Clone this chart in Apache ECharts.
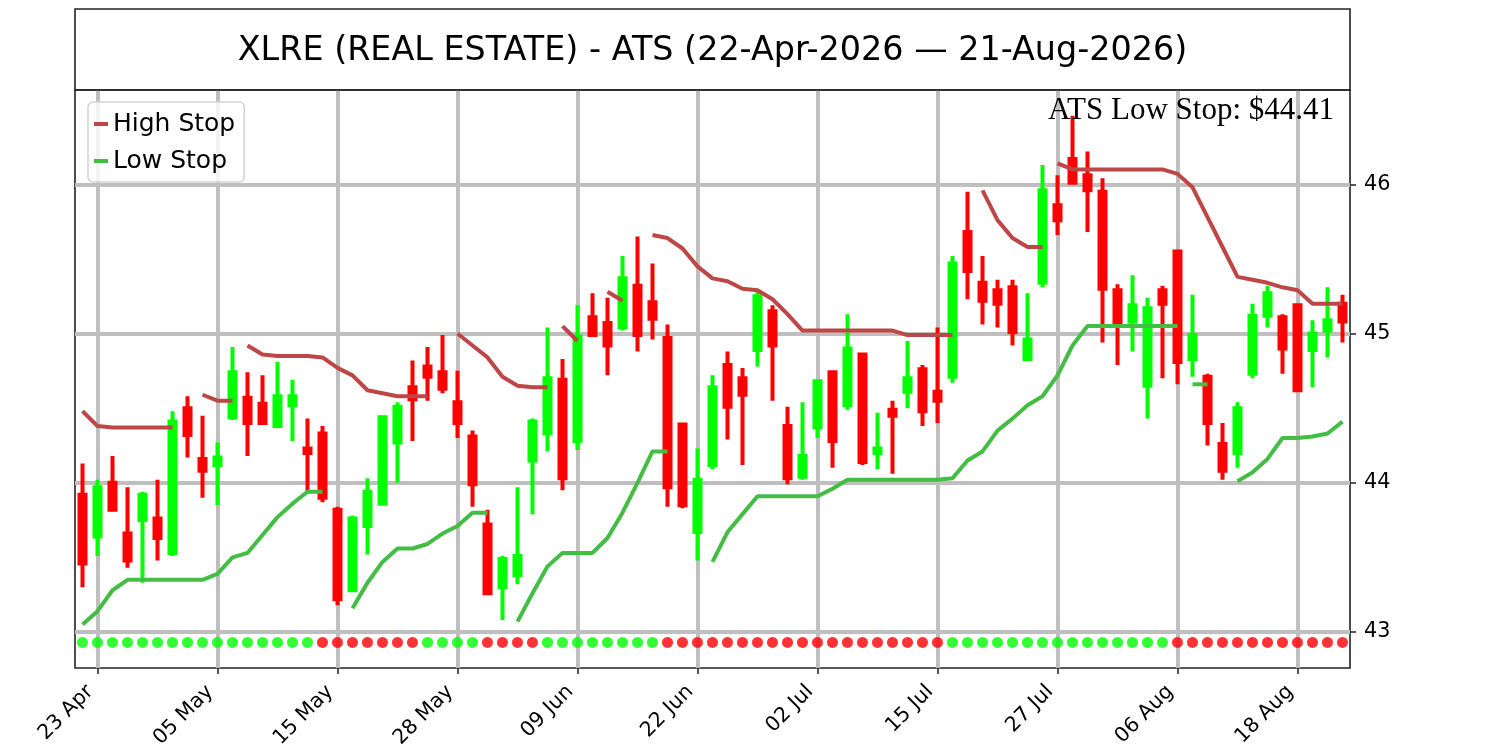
<!DOCTYPE html>
<html>
<head>
<meta charset="utf-8">
<title>XLRE ATS</title>
<script src="https://cdn.jsdelivr.net/npm/echarts@6/dist/echarts.min.js"></script>
<style>
html, body { margin: 0; padding: 0; background: #fff; }
#chart { width: 1500px; height: 750px; }
</style>
</head>
<body>
<div id="chart"></div>
<script>
// one value per trading day, 22 Apr .. 21 Aug 2026 (85 days)
var open = [43.92, 43.64, 44.00, 43.66, 43.75, 43.76, 43.53, 44.50, 44.16, 44.12,
            44.44, 44.57, 44.53, 44.38, 44.52, 44.23, 44.33, 43.82, 43.28, 43.71,
            43.86, 44.27, 44.64, 44.78, 44.74, 44.54, 44.31, 43.72, 43.30, 43.38,
            44.15, 44.33, 44.69, 44.28, 45.11, 45.07, 45.04, 45.32, 45.21, 44.97,
            44.39, 43.67, 44.12, 44.79, 44.70, 44.89, 45.15, 44.38, 44.04, 44.37,
            44.74, 44.52, 44.86, 44.20, 44.49, 44.61, 44.76, 44.61, 44.71, 45.68,
            45.34, 45.29, 45.31, 44.83, 45.34, 45.86, 46.17, 46.06, 45.95, 45.29,
            45.08, 44.65, 45.29, 45.55, 44.83, 44.71, 44.26, 44.20, 44.73, 45.12,
            45.11, 45.19, 44.89, 45.02, 45.20];
var close = [43.46, 43.97, 43.82, 43.48, 43.92, 43.63, 44.41, 44.32, 44.08, 44.17,
             44.74, 44.40, 44.40, 44.58, 44.58, 44.20, 43.90, 43.22, 43.76, 43.94,
             44.44, 44.51, 44.56, 44.71, 44.63, 44.40, 43.99, 43.26, 43.49, 43.51,
             44.41, 44.70, 44.03, 44.98, 44.99, 44.92, 45.37, 44.99, 45.10, 43.97,
             43.85, 44.02, 44.64, 44.51, 44.59, 45.25, 44.92, 44.03, 44.18, 44.68,
             44.28, 44.90, 44.14, 44.23, 44.45, 44.70, 44.48, 44.55, 45.47, 45.42,
             45.22, 45.20, 45.01, 44.96, 45.96, 45.76, 46.01, 45.96, 45.30, 45.06,
             45.19, 45.17, 45.20, 44.81, 44.99, 44.40, 44.08, 44.50, 45.12, 45.27,
             44.90, 44.62, 45.00, 45.09, 45.08];
var low = [43.30, 43.51, 43.81, 43.43, 43.33, 43.48, 43.51, 44.17, 43.90, 43.85,
           44.42, 44.18, 44.39, 44.38, 44.28, 43.93, 43.87, 43.18, 43.28, 43.52,
           43.86, 44.00, 44.28, 44.55, 44.60, 44.30, 43.84, 43.26, 43.08, 43.32,
           43.79, 44.21, 43.95, 44.22, 44.99, 44.72, 45.02, 44.88, 44.96, 43.84,
           43.83, 43.48, 44.09, 44.29, 44.12, 44.78, 44.55, 43.99, 44.02, 44.30,
           44.10, 44.49, 44.12, 44.09, 44.06, 44.50, 44.38, 44.40, 44.67, 45.23,
           45.06, 45.04, 44.92, 44.82, 45.31, 45.66, 46.00, 45.68, 44.94, 44.79,
           44.88, 44.43, 44.70, 44.66, 44.71, 44.25, 44.02, 44.10, 44.70, 45.04,
           44.73, 44.61, 44.64, 44.84, 44.94];
var high = [44.13, 44.02, 44.18, 43.97, 43.94, 44.02, 44.48, 44.58, 44.45, 44.27,
            44.91, 44.74, 44.72, 44.81, 44.69, 44.43, 44.38, 43.84, 43.78, 44.03,
            44.45, 44.54, 44.82, 44.91, 44.99, 44.75, 44.35, 43.82, 43.51, 43.97,
            44.43, 45.04, 44.83, 45.19, 45.27, 45.24, 45.52, 45.65, 45.47, 45.06,
            44.39, 44.23, 44.72, 44.88, 44.77, 45.29, 45.19, 44.51, 44.54, 44.69,
            44.74, 45.13, 44.86, 44.47, 44.55, 44.95, 44.79, 45.04, 45.52, 45.95,
            45.52, 45.36, 45.36, 45.27, 46.13, 46.06, 46.46, 46.22, 46.04, 45.33,
            45.39, 45.24, 45.32, 45.55, 45.26, 44.73, 44.40, 44.54, 45.20, 45.32,
            45.13, 45.19, 45.09, 45.31, 45.26];
// trend per day: 1 = up (green dot), 0 = down (red dot)
var trend = [1,1,1,1,1,1,1,1,1,1, 1,1,1,1,1,1,0,0,0,0, 0,0,0,1,1,1,1,0,0,0,
             0,1,1,1,1,1,1,1,1,0, 0,0,0,0,0,0,0,0,0,0, 0,0,0,0,0,0,0,0,1,1,
             1,1,1,1,1,1,1,1,1,1, 1,1,1,0,0,0,0,0,0,0, 0,0,0,0,0];
// stop lines come in separate pieces: [first day index, values]
var highStop = [
  [0, [44.48, 44.38, 44.37, 44.37, 44.37, 44.37, 44.37]],
  [8, [44.59, 44.55, 44.55]],
  [11, [44.92, 44.86, 44.85, 44.85, 44.85, 44.84, 44.77, 44.72, 44.62, 44.60, 44.58, 44.58, 44.58]],
  [25, [45.00, 44.92, 44.84, 44.71, 44.65, 44.64, 44.64]],
  [32, [45.05, 44.95]],
  [35, [45.28, 45.22]],
  [38, [45.66, 45.64, 45.57, 45.45, 45.37, 45.35, 45.30, 45.29, 45.23, 45.13, 45.02,
        45.02, 45.02, 45.02, 45.02, 45.02, 45.02, 44.99, 44.99, 44.99, 44.99]],
  [60, [45.96, 45.76, 45.64, 45.58, 45.58]],
  [65, [46.14, 46.10, 46.10, 46.10, 46.10, 46.10, 46.10, 46.10, 46.07, 45.98, 45.78,
        45.58, 45.38, 45.36, 45.34, 45.31, 45.29, 45.20, 45.20, 45.20]]
];
var lowStop = [
  [0, [43.05, 43.14, 43.28, 43.35, 43.35, 43.35, 43.35, 43.35, 43.35, 43.39, 43.50,
       43.53, 43.65, 43.77, 43.86, 43.94, 43.94]],
  [18, [43.16, 43.33, 43.47, 43.56, 43.56, 43.59, 43.66, 43.71, 43.80, 43.80]],
  [29, [43.07, 43.26, 43.44, 43.53, 43.53, 43.53, 43.63, 43.80, 44.00, 44.21, 44.21]],
  [42, [43.47, 43.67, 43.79, 43.91, 43.91, 43.91, 43.91, 43.91, 43.96, 44.02, 44.02,
        44.02, 44.02, 44.02, 44.02, 44.02, 44.03, 44.15, 44.21, 44.35, 44.43, 44.52,
        44.58, 44.72, 44.92, 45.05, 45.05, 45.05, 45.05, 45.05, 45.05, 45.05]],
  [74, [44.66, 44.66]],
  [77, [44.01, 44.07, 44.16, 44.30, 44.30, 44.31, 44.33, 44.41]]
];
// axis ticks
var tickDays = [1, 9, 17, 25, 33, 41, 49, 57, 65, 73, 81];
var tickLabels = ['23 Apr', '05 May', '15 May', '28 May', '09 Jun', '22 Jun',
                  '02 Jul', '15 Jul', '27 Jul', '06 Aug', '18 Aug'];
var yTicks = [43, 44, 45, 46];
var trendRowY = 42.93;

var FONT = 'DejaVu Sans';
var chart = echarts.init(document.getElementById('chart'));

//candles as [day, open, close, low, high]
var candles = open.map(function (o, i) {
  return [i, o, close[i], low[i], high[i]];
});

var series = [{
  type: 'candlestick',
  data: candles,
  encode: { x: 0, y: [1, 2, 3, 4] },
  barWidth: 7,
  itemStyle: {
    color: '#00ff00', color0: '#ff0000',
    borderColor: '#00ff00', borderColor0: '#ff0000',
    borderWidth: 4
  },
  silent: true,
  z: 2
}];

//each piece of a stop line is its own series, same name -> one legend entry
function addStop(name, color, pieces) {
  pieces.forEach(function (p) {
    series.push({
      name: name,
      type: 'line',
      data: p[1].map(function (v, k) { return [p[0] + k, v]; }),
      symbol: 'none',
      showSymbol: false,
      lineStyle: { color: color, width: 4 },
      itemStyle: { color: color },
      silent: true,
      z: 3
    });
  });
}
addStop('High Stop', '#bf4646', highStop);
addStop('Low Stop', '#44bd44', lowStop);

series.push({
  type: 'scatter',
  data: trend.map(function (t, i) {
    return { value: [i, trendRowY], itemStyle: { color: t ? '#00ff00' : '#ff0000' } };
  }),
  symbolSize: 11,
  silent: true,
  z: 4
});

var lastLow = lowStop[lowStop.length - 1][1];
var lastLowVal = lastLow[lastLow.length - 1];

var option = {
  animation: false,
  backgroundColor: '#fff',
  grid: {
    left: 75, right: 150, top: 90, bottom: 82,
    containLabel: false,
    outerBoundsMode: 'none',
    show: true, borderColor: '#222', borderWidth: 1.6, backgroundColor: '#fff'
  },
  legend: {
    data: ['High Stop', 'Low Stop'],
    orient: 'vertical',
    left: 88, top: 102,
    icon: 'rect',
    itemWidth: 14, itemHeight: 4,
    itemGap: 7,
    padding: [7, 9, 6, 6],
    borderColor: '#d3d3d3', borderWidth: 1.5, borderRadius: 5,
    backgroundColor: 'rgba(255,255,255,0.8)',
    textStyle: { fontFamily: FONT, fontSize: 25, color: '#000', lineHeight: 30 },
    selectedMode: false
  },
  xAxis: {
    type: 'value',
    min: -0.5, max: 84.5,
    axisLine: { show: false, onZero: false },
    axisTick: { show: true, customValues: tickDays, length: 6, lineStyle: { color: '#222', width: 1.5 } },
    axisLabel: {
      customValues: tickDays,
      rotate: 45,
      margin: 28,
      verticalAlign: 'bottom',
      fontFamily: FONT, fontSize: 20.5, color: '#000',
      formatter: function (v) { return tickLabels[tickDays.indexOf(v)]; }
    },
    splitLine: { show: true, lineStyle: { color: '#bfbfbf', width: 4 } }
  },
  yAxis: {
    type: 'value',
    position: 'right',
    min: 42.759, max: 46.632,
    axisLine: { show: false, onZero: false },
    axisTick: { show: true, customValues: yTicks, length: 6, lineStyle: { color: '#222', width: 1.5 } },
    axisLabel: {
      customValues: yTicks,
      margin: 14,
      fontFamily: FONT, fontSize: 20.8, color: '#000',
      formatter: function (v) { return String(v); }
    },
    splitLine: { show: true, lineStyle: { color: '#bfbfbf', width: 4 } }
  },
  graphic: [
    {
      type: 'rect',
      shape: { x: 75, y: 9, width: 1275, height: 81 },
      style: { fill: 'none', stroke: '#222', lineWidth: 1.6 },
      z: 10
    },
    {
      type: 'text',
      x: 712.5, y: 51,
      style: {
        text: 'XLRE (REAL ESTATE) - ATS (22-Apr-2026 \u2014 21-Aug-2026)',
        font: '33.4px "DejaVu Sans"', fill: '#000',
        textAlign: 'center', textVerticalAlign: 'middle'
      },
      z: 10
    },
    {
      type: 'text',
      x: 1334, y: 111,
      style: {
        text: 'ATS Low Stop: $' + lastLowVal.toFixed(2),
        font: '31px "Liberation Serif"', fill: '#000',
        textAlign: 'right', textVerticalAlign: 'middle'
      },
      z: 10
    }
  ],
  series: series
};

chart.setOption(option);
</script>
</body>
</html>
